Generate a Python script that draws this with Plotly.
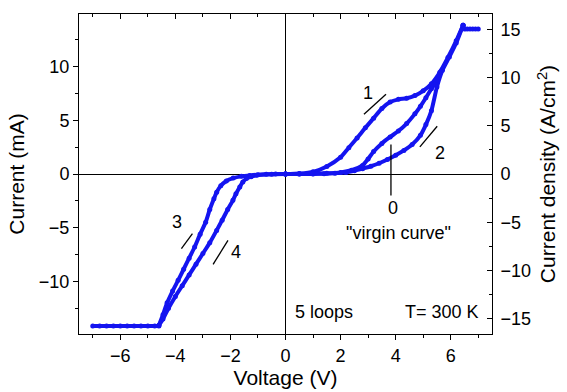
import plotly.graph_objects as go

# ---------------- data (V in volts, I in mA) ----------------
v_sweep1 = [0, 0.5, 1.0, 1.5, 2.0, 2.3, 2.6, 2.9, 3.2, 3.5, 3.8, 4.1, 4.4, 4.7, 5.0, 5.3, 5.6, 5.9, 6.2, 6.45]
i_sweep1 = [0, 0.05, 0.2, 0.7, 1.55, 2.45, 3.35, 4.3, 5.2, 6.1, 6.7, 6.95, 7.05, 7.3, 7.75, 8.4, 9.45, 10.85, 12.4, 13.85]

v_sweep2 = [6.45, 6.2, 5.95, 5.7, 5.5, 5.3, 5.1, 4.9, 4.6, 4.3, 4.0, 3.7, 3.4, 3.1, 2.8, 2.5, 2.2, 1.8, 1.4, 1.0, 0.5, 0]
i_sweep2 = [13.85, 12.2, 10.9, 9.66, 8.1, 5.9, 4.6, 3.6, 2.75, 2.2, 1.75, 1.35, 1.0, 0.72, 0.5, 0.3, 0.15, 0.08, 0.03, 0.01, 0, 0]

v_virgin = [0, 0.5, 1.0, 1.5, 2.0, 2.4, 2.8, 3.0, 3.2, 3.5, 3.8, 4.1, 4.4, 4.7, 4.9, 5.1, 5.3, 5.5, 5.65]
i_virgin = [0, 0, 0.02, 0.06, 0.15, 0.35, 0.8, 1.4, 2.1, 2.85, 3.45, 4.0, 4.7, 5.6, 6.3, 7.1, 7.95, 8.75, 9.6]

v_pos_limit = [6.45, 6.5, 6.6, 6.7, 6.8, 6.9, 7.0]
i_pos_limit = [13.85, 13.5, 13.5, 13.5, 13.5, 13.5, 13.5]

v_sweep3 = [0, -0.5, -1.0, -1.3, -1.6, -1.9, -2.15, -2.35, -2.5, -2.6, -2.75, -2.9, -3.1, -3.3, -3.5, -3.7, -3.9, -4.1, -4.3, -4.45, -4.6]
i_sweep3 = [0, -0.02, -0.07, -0.13, -0.22, -0.38, -0.65, -1.1, -1.7, -2.3, -3.3, -4.5, -5.6, -6.8, -7.84, -8.87, -9.9, -10.9, -12.0, -13.1, -14.1]

v_sweep4 = [0, -0.36, -0.7, -1.05, -1.25, -1.42, -1.55, -1.66, -1.8, -1.91, -2.1, -2.3, -2.5, -2.75, -3.0, -3.25, -3.5, -3.75, -4.0, -4.25, -4.45, -4.6]
i_sweep4 = [0, 0, -0.03, -0.12, -0.25, -0.43, -0.75, -1.21, -1.85, -2.45, -3.3, -4.3, -5.25, -6.4, -7.4, -8.4, -9.4, -10.4, -11.4, -12.5, -13.5, -14.1]

v_neg_limit = [-4.6, -4.75, -5.0, -5.25, -5.5, -5.75, -6.0, -6.25, -6.5, -6.75, -7.0]
i_neg_limit = [-14.15] * 11

x_ticks = [-6, -4, -2, 0, 2, 4, 6]
y_ticks = [-10, -5, 0, 5, 10]
y2_ticks = [-15, -10, -5, 0, 5, 10, 15]

x_range = [-7.5, 7.5]
y_range = [-14.9, 14.9]
y2_range = [-16.6, 16.6]

# annotation guide segments (x0, y0, x1, y1) in data units
seg_1 = (2.85, 5.56, 3.65, 7.43)
seg_2 = (4.88, 2.52, 5.51, 4.45)
seg_0 = (3.83, 2.75, 3.83, -2.0)
seg_3 = (-3.78, -6.95, -3.38, -5.55)
seg_4 = (-2.63, -8.42, -2.09, -6.18)

labels = [
    ("1", 3.0, 7.5),
    ("2", 5.62, 2.0),
    ("0", 3.91, -3.2),
    ("\"virgin curve\"", 4.1, -5.5),
    ("3", -3.95, -4.45),
    ("4", -1.8, -7.25),
    ("5 loops", 1.4, -12.85),
    ("T= 300 K", 5.68, -12.85),
]

BLUE = "rgb(20,20,240)"
FONT = "Liberation Sans, Arial, sans-serif"

fig = go.Figure()

series = [
    (v_sweep1, i_sweep1),
    (v_sweep2, i_sweep2),
    (v_virgin, i_virgin),
    (v_pos_limit, i_pos_limit),
    (v_sweep3, i_sweep3),
    (v_sweep4, i_sweep4),
    (v_neg_limit, i_neg_limit),
]
for vx, iy in series:
    fig.add_trace(go.Scatter(
        x=vx, y=iy, mode="lines+markers",
        line=dict(color=BLUE, width=4, shape="spline", smoothing=0.6),
        marker=dict(color=BLUE, size=5, symbol="circle"),
        showlegend=False, hoverinfo="skip",
    ))

# dummy traces so the secondary axes are drawn
fig.add_trace(go.Scatter(x=[0], y=[0], xaxis="x2", yaxis="y", mode="markers",
                         marker=dict(opacity=0), showlegend=False, hoverinfo="skip"))
fig.add_trace(go.Scatter(x=[0], y=[0], xaxis="x", yaxis="y2", mode="markers",
                         marker=dict(opacity=0), showlegend=False, hoverinfo="skip"))

for (x0, y0, x1, y1) in [seg_1, seg_2, seg_0, seg_3, seg_4]:
    fig.add_shape(type="line", x0=x0, y0=y0, x1=x1, y1=y1, xref="x", yref="y",
                  line=dict(color="black", width=1.3))

for txt, x, y in labels:
    fig.add_annotation(x=x, y=y, xref="x", yref="y", text=txt, showarrow=False,
                       font=dict(family=FONT, size=18, color="black"))

axis_common = dict(showgrid=False, showline=True, linecolor="black", linewidth=1,
                   tickfont=dict(family=FONT, size=18, color="black"),
                   tickcolor="black", ticklen=5, tickwidth=1, automargin=False)

TITLE_FONT = dict(family=FONT, size=21, color="black")

fig.update_layout(
    width=567, height=392,
    margin=dict(l=79, r=75, t=14, b=58),
    plot_bgcolor="white", paper_bgcolor="white",
    xaxis=dict(range=x_range, tickvals=x_ticks, ticks="outside",
               zeroline=True, zerolinecolor="black", zerolinewidth=1,
               minor=dict(dtick=1, ticks="outside", ticklen=3, tickcolor="black"),
               title=dict(text="Voltage (V)", font=TITLE_FONT, standoff=4),
               **axis_common),
    xaxis2=dict(range=x_range, overlaying="x", side="top", tickvals=x_ticks, ticks="inside",
                showticklabels=False, zeroline=False,
                minor=dict(dtick=1, ticks="inside", ticklen=3, tickcolor="black"),
                **axis_common),
    yaxis=dict(range=y_range, tickvals=y_ticks, ticks="outside",
               zeroline=True, zerolinecolor="black", zerolinewidth=1,
               minor=dict(dtick=2.5, ticks="outside", ticklen=3, tickcolor="black"),
               title=dict(text="Current (mA)", font=TITLE_FONT, standoff=8),
               **axis_common),
    yaxis2=dict(range=y2_range, overlaying="y", side="right", tickvals=y2_ticks, ticks="inside",
                zeroline=False,
                minor=dict(dtick=2.5, ticks="inside", ticklen=3, tickcolor="black"),
                ticklabelstandoff=4,
                title=dict(text="Current density (A/cm<sup>2</sup>)", font=TITLE_FONT, standoff=10),
                **axis_common),
)

fig.write_html("out.html")
